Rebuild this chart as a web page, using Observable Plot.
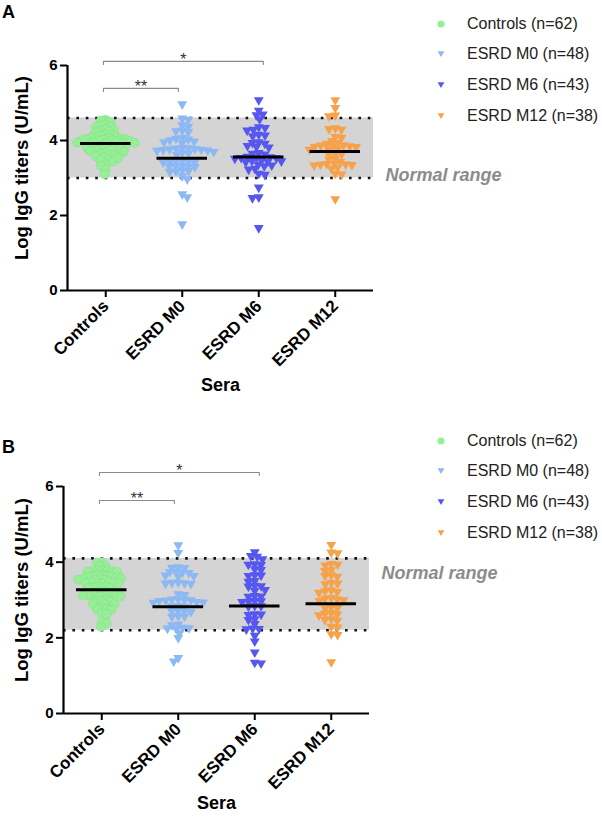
<!DOCTYPE html>
<html><head><meta charset="utf-8">
<script src="https://cdn.jsdelivr.net/npm/d3@7"></script>
<script src="https://cdn.jsdelivr.net/npm/@observablehq/plot@0.6"></script>
<style>
body{margin:0;background:#fff;font-family:Arial,"Liberation Sans",sans-serif;}
#wrap{position:relative;width:602px;height:820px;overflow:hidden;}
.panel{position:absolute;left:0;width:602px;height:410px;}
.letter{position:absolute;left:2px;font-weight:bold;font-size:18px;line-height:20px;}
.lrow{position:absolute;left:431px;height:20px;display:flex;align-items:center;font-size:16px;color:#222;white-space:nowrap;}
.lrow svg{width:20px;height:20px;margin-right:16px;}
g[aria-label$="axis tick"]{stroke-width:2px;}
g[aria-label="x-axis"] .tick line, g[aria-label="y-axis"] .tick line{stroke-width:2px;}
g[aria-label="x-axis tick label"], g[aria-label="x-axis"] text{font-size:17px;}
g[aria-label="y-axis tick label"], g[aria-label="y-axis"] text{font-size:15px;}
</style>
</head><body><div id="wrap"></div>
<script>
const groups = ["Controls", "ESRD M0", "ESRD M6", "ESRD M12"];
const legendLabels = ["Controls (n=62)", "ESRD M0 (n=48)", "ESRD M6 (n=43)", "ESRD M12 (n=38)"];
const colors = ["#96ee96", "#8cb8f4", "#5656f0", "#f7a24a"];
const yTicks = [0, 2, 4, 6];

// Panel A values
const controlsA = [4.55,4.53,4.50,4.42,4.40,4.38,4.36,4.30,4.28,4.26,4.24,4.22,4.16,4.14,4.12,4.10,4.09,4.08,4.06,4.05,4.04,4.03,4.02,4.01,4.00,3.99,3.98,3.97,3.96,3.95,3.94,3.93,3.92,3.91,3.88,3.86,3.85,3.84,3.83,3.82,3.81,3.80,3.78,3.76,3.74,3.73,3.72,3.70,3.68,3.64,3.62,3.60,3.58,3.56,3.53,3.50,3.47,3.44,3.36,3.32,3.22,3.10];
const m0A = [4.93,4.55,4.52,4.37,4.33,4.23,4.21,4.19,4.03,4.01,3.99,3.97,3.94,3.92,3.90,3.77,3.76,3.75,3.74,3.73,3.72,3.71,3.70,3.69,3.66,3.64,3.62,3.58,3.43,3.42,3.41,3.40,3.39,3.38,3.30,3.29,3.28,3.27,3.26,3.17,3.15,3.14,3.13,3.01,2.93,2.53,2.45,1.73];
const m6A = [5.04,4.76,4.66,4.64,4.53,4.32,4.30,4.25,4.23,4.12,4.10,4.08,3.92,3.90,3.88,3.82,3.80,3.78,3.63,3.61,3.59,3.53,3.52,3.51,3.50,3.49,3.48,3.43,3.42,3.41,3.40,3.39,3.32,3.30,3.28,3.21,3.19,3.08,3.05,2.71,2.45,2.43,1.63];
const m12A = [5.04,4.83,4.63,4.61,4.29,4.27,4.25,4.06,4.04,3.95,3.90,3.88,3.84,3.83,3.82,3.81,3.80,3.79,3.74,3.73,3.72,3.61,3.60,3.59,3.48,3.46,3.40,3.35,3.34,3.33,3.32,3.31,3.30,3.24,3.22,3.08,3.06,2.40];
const meansA = [3.92, 3.53, 3.56, 3.71];
const normalA = [3.0, 4.6];
const sigLevelA = [5.39, 6.11];

// Panel B values
const controlsB = [4.00,3.99,3.91,3.89,3.79,3.78,3.77,3.77,3.76,3.75,3.74,3.66,3.65,3.64,3.63,3.62,3.61,3.58,3.57,3.56,3.55,3.54,3.53,3.52,3.48,3.47,3.46,3.45,3.44,3.43,3.35,3.34,3.33,3.32,3.31,3.22,3.21,3.20,3.19,3.18,3.17,3.13,3.12,3.11,3.10,3.09,3.00,2.99,2.97,2.96,2.90,2.89,2.88,2.78,2.77,2.75,2.74,2.64,2.62,2.41,2.38,2.29];
const m0B = [4.41,4.21,3.83,3.82,3.81,3.71,3.70,3.69,3.68,3.61,3.60,3.59,3.43,3.42,3.41,3.40,3.39,3.12,3.10,2.99,2.98,2.97,2.96,2.95,2.94,2.91,2.90,2.89,2.81,2.80,2.79,2.68,2.67,2.66,2.65,2.54,2.53,2.52,2.32,2.30,2.23,2.22,2.21,2.20,2.09,1.96,1.43,1.34];
const m6B = [4.23,4.13,4.11,4.04,3.91,3.90,3.89,3.78,3.76,3.62,3.61,3.60,3.47,3.45,3.34,3.33,3.32,3.23,3.21,3.07,3.06,3.05,2.94,2.93,2.92,2.91,2.81,2.80,2.79,2.59,2.58,2.57,2.46,2.44,2.33,2.21,2.20,2.19,2.02,1.87,1.58,1.31,1.29];
const m12B = [4.42,4.22,4.20,3.92,3.90,3.88,3.75,3.73,3.62,3.60,3.58,3.42,3.40,3.38,3.22,3.20,3.18,3.16,3.02,3.00,2.98,2.96,2.94,2.78,2.76,2.74,2.62,2.60,2.58,2.56,2.46,2.44,2.42,2.26,2.24,2.06,2.04,1.32];
const meansB = [3.27, 2.82, 2.84, 2.90];
const normalB = [2.2, 4.1];
const sigLevelB = [5.63, 6.37];

// significance brackets (category units)
const sigX1 = [-0.03, -0.03];
const sigX2 = [0.95, 2.06];
const sigLabels = ["**", "*"];

const triDown = {
  draw(ctx, size) {
    const r = Math.sqrt(size / Math.PI);
    const s = r * 2.3, h = s * 0.87;
    ctx.moveTo(-s / 2, -h / 2);
    ctx.lineTo(s / 2, -h / 2);
    ctx.lineTo(0, h / 2);
    ctx.closePath();
  }
};

// beeswarm layout with an elliptical exclusion zone (dX wide, dY tall), in pixels
function swarm(vals, dX, dY, pyUnit) {
  const order = d3.range(vals.length).sort((a, b) => d3.descending(vals[a], vals[b]));
  const placed = [], out = new Array(vals.length);
  for (const i of order) {
    const y = -vals[i] * pyUnit;
    const near = placed.filter(p => Math.abs(p.y - y) < dY);
    const cands = [0];
    for (const p of near) {
      const dx = dX * Math.sqrt(1 - ((p.y - y) / dY) ** 2);
      cands.push(p.x + dx, p.x - dx);
    }
    const flip = placed.length % 2 ? 1 : -1;
    cands.sort((a, b) => (Math.abs(a) - Math.abs(b)) || flip * (a - b));
    let x = 0;
    for (const c of cands) {
      if (near.every(p => ((p.x - c) / dX) ** 2 + ((p.y - y) / dY) ** 2 >= 1 - 1e-6)) { x = c; break; }
    }
    placed.push({x, y});
    out[i] = x;
  }
  return out;
}

function panel(cfg) {
  const W = 602, H = 410, pxX = 76.5;
  const right = cfg.left + 4 * pxX;
  const plotH = H - cfg.top - cfg.bottom;
  const pyUnit = plotH / 6;
  const pts = [];
  cfg.values.forEach((vals, g) => {
    const offs = g === 0 ? swarm(vals, 4.9, 4.6, pyUnit) : swarm(vals, 6.4, 4.8, pyUnit);
    vals.forEach((v, k) => pts.push({g, x: g + offs[k] / pxX, y: v}));
  });
  const br = [];
  sigLabels.forEach((lab, i) => {
    const y = cfg.sig[i], t = 0.08;
    br.push({i, x: sigX1[i], y: y - t}, {i, x: sigX1[i], y}, {i, x: sigX2[i], y}, {i, x: sigX2[i], y: y - t});
  });
  const sigText = sigLabels.map((lab, i) => ({lab, x: (sigX1[i] + sigX2[i]) / 2, y: cfg.sig[i]}));
  return Plot.plot({
    width: W, height: H,
    marginLeft: cfg.left, marginRight: W - right, marginTop: cfg.top, marginBottom: cfg.bottom,
    style: {fontFamily: "Arial, 'Liberation Sans', sans-serif", fontSize: "16px", fontWeight: "bold", color: "black", background: "transparent", overflow: "visible"},
    x: {domain: [-0.5, 3.5], ticks: [0, 1, 2, 3], tickFormat: i => groups[i], tickRotate: -45, tickSize: 7, label: null},
    y: {domain: [0, 6], ticks: yTicks, tickFormat: d => String(d), tickSize: 7, tickPadding: 3, label: null},
    color: {type: "ordinal", domain: [0, 1, 2, 3], range: colors},
    marks: [
      Plot.rectY([cfg.normal], {y1: d => d[0], y2: d => d[1], fill: "#d4d4d4"}),
      Plot.ruleY(cfg.normal, {stroke: "#111", strokeWidth: 2.6, strokeDasharray: "2.6,6.8", strokeLinecap: "butt"}),
      Plot.dot(pts.filter(d => d.g === 0), {x: "x", y: "y", fill: "g", r: 4.6, stroke: "#7ddc7d", strokeWidth: 0.4}),
      Plot.dot(pts.filter(d => d.g > 0), {x: "x", y: "y", fill: "g", r: 4.3, symbol: triDown}),
      Plot.ruleY(cfg.means, {y: d => d, x1: (d, i) => i - 0.33, x2: (d, i) => i + 0.33, stroke: "black", strokeWidth: 3}),
      Plot.ruleX([-0.5], {stroke: "black", strokeWidth: 2.2}),
      Plot.ruleY([0], {stroke: "black", strokeWidth: 2.2}),
      Plot.line(br, {x: "x", y: "y", z: "i", stroke: "#8a8a8a", strokeWidth: 1.1}),
      Plot.text(sigText, {x: "x", y: "y", text: "lab", dy: -2, fontSize: 16, fontWeight: "normal", fill: "#333"}),
      Plot.text(["Normal range"], {frameAnchor: "right", y: () => cfg.labelY, dx: 12, textAnchor: "start", fontSize: 18, fontStyle: "italic", fontWeight: "bold", fill: "#8c8c8c"}),
      Plot.text(["Log IgG titers (U/mL)"], {frameAnchor: "left", textAnchor: "middle", rotate: -90, dx: cfg.titleDx, dy: -10, fontSize: 18.5, fontWeight: "bold"}),
      Plot.text(["Sera"], {frameAnchor: "bottom", textAnchor: "middle", dy: cfg.seraDy, fontSize: 18, fontWeight: "bold"})
    ]
  });
}

const wrap = document.getElementById("wrap");
function addPanel(top, letterTop, legendTops, cfg, letter) {
  const div = document.createElement("div");
  div.className = "panel";
  div.style.top = top + "px";
  div.appendChild(panel(cfg));
  wrap.appendChild(div);
  const L = document.createElement("div");
  L.className = "letter";
  L.style.top = letterTop + "px";
  L.textContent = letter;
  wrap.appendChild(L);
  legendLabels.forEach((lab, i) => {
    const row = document.createElement("div");
    row.className = "lrow";
    row.style.top = (legendTops[i] - 10) + "px";
    const sym = i === 0
      ? `<circle cx="10" cy="10" r="3.6" fill="${colors[i]}"/>`
      : `<path d="M6.6,7.2L13.4,7.2L10,13Z" fill="${colors[i]}"/>`;
    row.innerHTML = `<svg viewBox="0 0 20 20">${sym}</svg><span>${lab}</span>`;
    wrap.appendChild(row);
  });
}

addPanel(0, 2, [24, 54, 85, 116], {
  values: [controlsA, m0A, m6A, m12A], means: meansA, normal: normalA, sig: sigLevelA,
  left: 67, top: 65, bottom: 120, labelY: 3.07, titleDx: -45, seraDy: 100
}, "A");
addPanel(410, 437, [441, 471, 502, 533], {
  values: [controlsB, m0B, m6B, m12B], means: meansB, normal: normalB, sig: sigLevelB,
  left: 63, top: 76, bottom: 107, labelY: 3.72, titleDx: -41, seraDy: 95
}, "B");
</script>
</body></html>
